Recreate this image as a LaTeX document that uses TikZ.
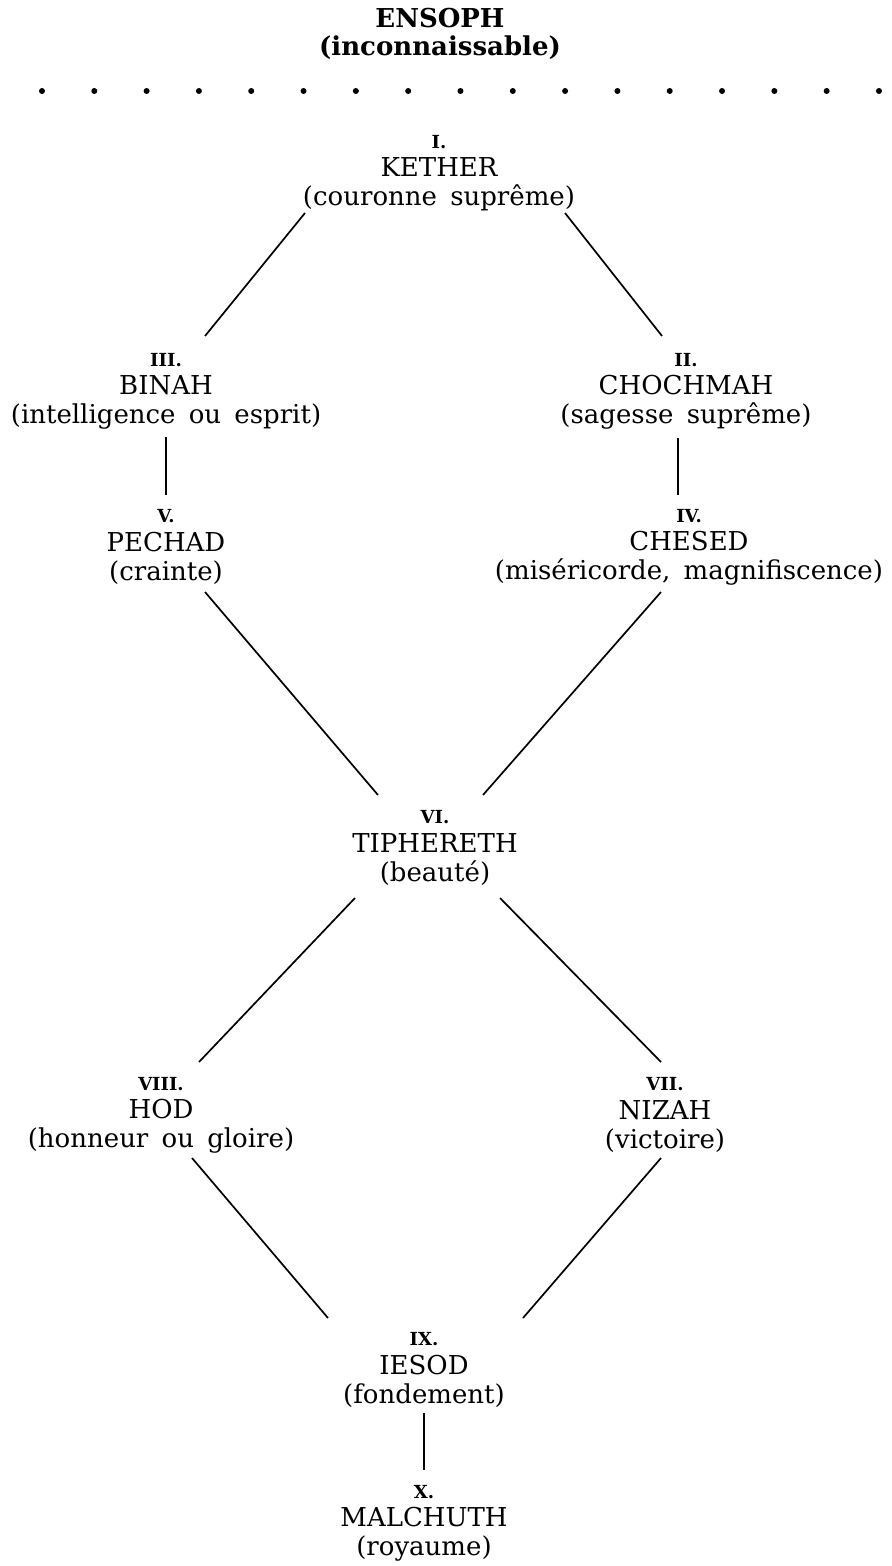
\documentclass[tikz,border=0pt]{standalone}
\usepackage{fontspec}
\setmainfont{DejaVu Serif}[WordSpace=1.6]
\usetikzlibrary{positioning}

% numeral, name, meaning of one sephira
\newcommand{\sefira}[3]{{\fontsize{9}{10}\selectfont\bfseries #1}\\#2\\#3}

\begin{document}
\begin{tikzpicture}[
  x=0.5pt, y=-0.5pt,
  sefira/.style={align=center, inner sep=0pt, font=\fontsize{13}{14.3}\selectfont},
  link/.style={line width=0.85pt},
  dot/.style={circle, fill, inner sep=0pt, minimum size=3pt},
]
  \useasboundingbox (0,0) rectangle (892,1566);

  \node[sefira, font=\fontsize{13}{14.3}\selectfont\bfseries] (ensoph) at (440,34) {ENSOPH\\(inconnaissable)};
  \foreach \i in {0,...,16}
    \node[dot] (dot\i) at (42+52.31*\i,91) {};

  \node[sefira] (kether)    at (439,173)  {\sefira{I.}{KETHER}{(couronne suprême)}};
  \node[sefira] (binah)     at (166,391)  {\sefira{III.}{BINAH}{(intelligence ou esprit)}};
  \node[sefira] (chochmah)  at (686,391)  {\sefira{II.}{CHOCHMAH}{(sagesse suprême)}};
  \node[sefira] (pechad)    at (166,547)  {\sefira{V.}{PECHAD}{(crainte)}};
  \node[sefira] (chesed)    at (689,547)  {\sefira{IV.}{CHESED}{(miséricorde, magnifiscence)}};
  \node[sefira] (tiphereth) at (435,848)  {\sefira{VI.}{TIPHERETH}{(beauté)}};
  \node[sefira] (hod)       at (161,1115) {\sefira{VIII.}{HOD}{(honneur ou gloire)}};
  \node[sefira] (nizah)     at (665,1115) {\sefira{VII.}{NIZAH}{(victoire)}};
  \node[sefira] (iesod)     at (424,1370) {\sefira{IX.}{IESOD}{(fondement)}};
  \node[sefira] (malchuth)  at (424,1523) {\sefira{X.}{MALCHUTH}{(royaume)}};

  \draw[link] ([shift={(-134,40)}]kether.center) -- ([shift={(39,-55)}]binah.center);
  \draw[link] ([shift={(126,40)}]kether.center) -- ([shift={(-24,-55)}]chochmah.center);
  \draw[link] ([shift={(0,46)}]binah.center) -- ([shift={(0,-52)}]pechad.center);
  \draw[link] ([shift={(-8,47)}]chochmah.center) -- ([shift={(-11,-52)}]chesed.center);
  \draw[link] ([shift={(39,45)}]pechad.center) -- ([shift={(-57,-53)}]tiphereth.center);
  \draw[link] ([shift={(-28,45)}]chesed.center) -- ([shift={(48,-53)}]tiphereth.center);
  \draw[link] ([shift={(-80,50)}]tiphereth.center) -- ([shift={(38,-53)}]hod.center);
  \draw[link] ([shift={(65,50)}]tiphereth.center) -- ([shift={(-4,-53)}]nizah.center);
  \draw[link] ([shift={(31,43)}]hod.center) -- ([shift={(-96,-52)}]iesod.center);
  \draw[link] ([shift={(-4,43)}]nizah.center) -- ([shift={(99,-52)}]iesod.center);
  \draw[link] ([shift={(0,43)}]iesod.center) -- ([shift={(0,-53)}]malchuth.center);
\end{tikzpicture}
\end{document}
